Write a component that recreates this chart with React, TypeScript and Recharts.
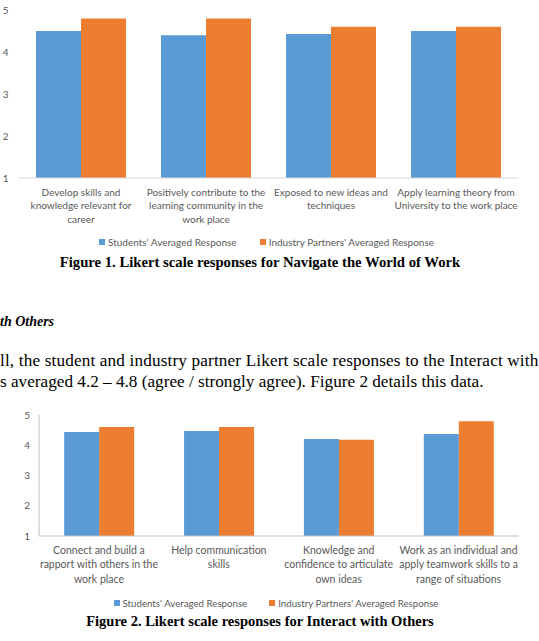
import React from "react"
import { BarChart, Bar, XAxis, YAxis, Legend } from "recharts"

const yTicks = [1, 2, 3, 4, 5]

const categories1 = [
  "Develop skills and\nknowledge relevant for\ncareer",
  "Positively contribute to the\nlearning community in the\nwork place",
  "Exposed to new ideas and\ntechniques",
  "Apply learning theory from\nUniversity to the work place",
]
const students1 = [4.5, 4.4, 4.43, 4.5]
const industry1 = [4.8, 4.8, 4.6, 4.6]

const categories2 = [
  "Connect and build a\nrapport with others in the\nwork place",
  "Help communication\nskills",
  "Knowledge and\nconfidence to articulate\nown ideas",
  "Work as an individual and\napply teamwork skills to a\nrange of situations",
]
const students2 = [4.44, 4.47, 4.21, 4.37]
const industry2 = [4.6, 4.6, 4.18, 4.79]

const seriesNames = ["Students' Averaged Response", "Industry Partners' Averaged Response"]

const BLUE = "#5B9BD5"
const ORANGE = "#ED7D31"
const LABEL = "#595959"
const SANS = "Lato, 'Open Sans', sans-serif"
const SERIF = "'Liberation Serif', 'Times New Roman', serif"

const data1 = categories1.map((name, i) => ({ name, students: students1[i], industry: industry1[i] }))
const data2 = categories2.map((name, i) => ({ name, students: students2[i], industry: industry2[i] }))

function WrapTick(props: any) {
  const { x, y, payload, fontSize, lineHeight, offset } = props
  const lines = String(payload.value).split("\n")
  return (
    <g transform={`translate(${x},${y})`}>
      {lines.map((l: string, i: number) => (
        <text key={i} x={0} y={offset + i * lineHeight} textAnchor="middle" fill={LABEL} fontSize={fontSize} fontFamily={SANS}>
          {l}
        </text>
      ))}
    </g>
  )
}

function LegendRow({ fontSize, gap }: { fontSize: number; gap: number }) {
  const colors = [BLUE, ORANGE]
  return (
    <div style={{ display: "flex", justifyContent: "center", gap, fontFamily: SANS, fontSize, color: LABEL }}>
      {seriesNames.map((n, i) => (
        <span key={n} style={{ display: "inline-flex", alignItems: "center", gap: 3 }}>
          <span style={{ width: 6, height: 6, background: colors[i], display: "inline-block" }} />
          {n}
        </span>
      ))}
    </div>
  )
}

export default function App() {
  return (
    <div style={{ position: "fixed", left: 0, top: 0, width: 539, height: 641, overflow: "hidden", background: "#fff" }}>
      {/* Figure 1 */}
      <div style={{ position: "absolute", left: 0, top: 0 }}>
        <BarChart width={539} height={252} data={data1} margin={{ top: 10, right: 20.5, bottom: 0, left: 0 }} barCategoryGap="14%" barGap={0}>
          <XAxis
            dataKey="name"
            interval={0}
            height={74}
            tickSize={0}
            tickMargin={0}
            axisLine={{ stroke: "#D9D9D9" }}
            tick={<WrapTick fontSize={10} lineHeight={13.5} offset={17.5} />}
          />
          <YAxis
            domain={[1, 5]}
            ticks={yTicks}
            width={18.5}
            axisLine={false}
            tickLine={false}
            tickSize={0}
            tickMargin={10}
            tick={{ fill: LABEL, fontSize: 10, fontFamily: SANS }}
          />
          <Bar dataKey="students" name={seriesNames[0]} fill={BLUE} isAnimationActive={false} />
          <Bar dataKey="industry" name={seriesNames[1]} fill={ORANGE} isAnimationActive={false} />
          <Legend verticalAlign="middle" wrapperStyle={{ top: 236, left: 0, width: 533 }} content={() => <LegendRow fontSize={10} gap={23} />} />
        </BarChart>
      </div>
      <div style={{ position: "absolute", left: 0, width: 520, top: 254, textAlign: "center", fontFamily: SERIF, fontWeight: "bold", fontSize: 14.7 }}>
        Figure 1. Likert scale responses for Navigate the World of Work
      </div>

      {/* body text */}
      <div style={{ position: "absolute", left: 0, top: 314, fontFamily: SERIF, fontWeight: "bold", fontStyle: "italic", fontSize: 14, whiteSpace: "nowrap" }}>
        th Others
      </div>
      <div style={{ position: "absolute", left: 0, top: 350, fontFamily: SERIF, fontSize: 17.2, lineHeight: "21px", whiteSpace: "nowrap" }}>
        <div style={{ letterSpacing: 0.15 }}>ll, the student and industry partner Likert scale responses to the Interact with</div>
        <div>s averaged 4.2 – 4.8 (agree / strongly agree). Figure 2 details this data.</div>
      </div>

      {/* Figure 2 */}
      <div style={{ position: "absolute", left: 0, top: 400 }}>
        <BarChart width={539} height={215} data={data2} margin={{ top: 15, right: 20.5, bottom: 0, left: 0 }} barCategoryGap="21%" barGap={0}>
          <XAxis
            dataKey="name"
            interval={0}
            height={79}
            tickSize={0}
            tickMargin={0}
            axisLine={{ stroke: "#BFBFBF" }}
            tick={<WrapTick fontSize={10.5} lineHeight={14.3} offset={18} />}
          />
          <YAxis
            domain={[1, 5]}
            ticks={yTicks}
            width={39}
            axisLine={{ stroke: "#BFBFBF" }}
            tickLine={false}
            tickSize={0}
            tickMargin={9}
            tick={{ fill: LABEL, fontSize: 10, fontFamily: SANS }}
          />
          <Bar dataKey="students" name={seriesNames[0]} fill={BLUE} isAnimationActive={false} />
          <Bar dataKey="industry" name={seriesNames[1]} fill={ORANGE} isAnimationActive={false} />
          <Legend verticalAlign="middle" wrapperStyle={{ top: 197, left: 38, width: 476 }} content={() => <LegendRow fontSize={9.7} gap={22} />} />
        </BarChart>
      </div>
      <div style={{ position: "absolute", left: 0, width: 520, top: 613, textAlign: "center", fontFamily: SERIF, fontWeight: "bold", fontSize: 14.5 }}>
        Figure 2. Likert scale responses for Interact with Others
      </div>
    </div>
  )
}
